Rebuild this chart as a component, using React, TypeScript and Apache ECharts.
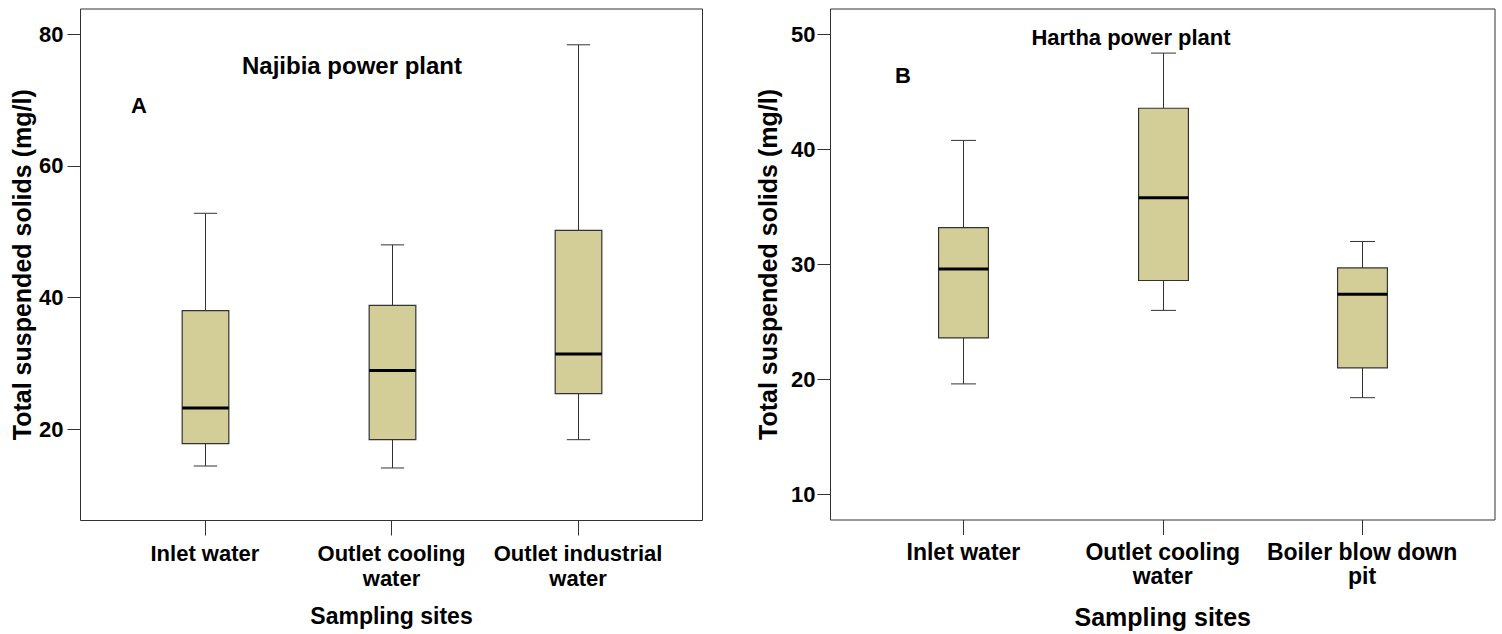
import React, { useEffect, useRef } from 'react';
import * as echarts from 'echarts';

// ---- data ----
const categoriesA = ['Inlet water', 'Outlet cooling\nwater', 'Outlet industrial\nwater'];
const categoriesB = ['Inlet water', 'Outlet cooling\nwater', 'Boiler blow down\npit'];
const positions = [1, 2, 3];
// each box: [lower whisker, Q1, median, Q3, upper whisker]
const boxesA = [
  [14.4, 17.8, 23.2, 38.0, 52.8],
  [14.1, 18.4, 28.9, 38.8, 48.0],
  [18.4, 25.4, 31.4, 50.2, 78.4],
];
const boxesB = [
  [19.6, 23.6, 29.6, 33.2, 40.8],
  [26.0, 28.6, 35.8, 43.6, 48.4],
  [18.4, 21.0, 27.4, 29.7, 32.0],
];
const ticksA = [20, 40, 60, 80];
const ticksB = [10, 20, 30, 40, 50];

const ARIAL = "'Liberation Sans', Arial, sans-serif";
const BOX_FILL = '#D3CE97';
const LINE = '#333333';
const BOX_W = 0.25;

const renderBox = (params: any, api: any) => {
  const x = api.value(0);
  const lo = api.coord([x, api.value(1)]);
  const q1 = api.coord([x, api.value(2)]);
  const med = api.coord([x, api.value(3)]);
  const q3 = api.coord([x, api.value(4)]);
  const hi = api.coord([x, api.value(5)]);
  const half = api.size([BOX_W, 0])[0] / 2;
  const cap = half / 2;
  const cx = Math.round(q1[0]) + 0.5;
  const lineStyle = { stroke: LINE, lineWidth: 1 };
  return {
    type: 'group',
    children: [
      { type: 'line', shape: { x1: cx, y1: q3[1], x2: cx, y2: hi[1] }, style: lineStyle },
      { type: 'line', shape: { x1: cx, y1: q1[1], x2: cx, y2: lo[1] }, style: lineStyle },
      { type: 'line', shape: { x1: cx - cap, y1: hi[1], x2: cx + cap, y2: hi[1] }, style: lineStyle },
      { type: 'line', shape: { x1: cx - cap, y1: lo[1], x2: cx + cap, y2: lo[1] }, style: lineStyle },
      {
        type: 'rect',
        shape: { x: cx - half, y: q3[1], width: half * 2, height: q1[1] - q3[1] },
        style: { fill: BOX_FILL, stroke: LINE, lineWidth: 1.2 },
      },
      {
        type: 'line',
        shape: { x1: cx - half, y1: med[1], x2: cx + half, y2: med[1] },
        style: { stroke: '#000', lineWidth: 3 },
      },
    ],
  };
};

const makeData = (boxes: number[][]) => boxes.map((b, i) => [positions[i], ...b]);

export default function App() {
  const ref = useRef<HTMLDivElement>(null);
  useEffect(() => {
    if (!ref.current) return;
    const chart = echarts.init(ref.current, null, { renderer: 'svg' });
    const xAxisBase = (cats: string[], size: number, nameSize: number, lh: number) => ({
      type: 'value',
      min: 1 / 3,
      max: 11 / 3,
      name: 'Sampling sites',
      nameLocation: 'middle',
      nameGap: 84,
      nameTextStyle: { fontFamily: ARIAL, fontWeight: 'bold', fontSize: nameSize, color: '#000' },
      axisLine: { show: false },
      splitLine: { show: false },
      axisTick: { show: true, customValues: positions, length: 15, lineStyle: { color: LINE } },
      axisLabel: {
        customValues: positions,
        hideOverlap: false,
        formatter: (v: number) => cats[Math.round(v) - 1] ?? '',
        fontFamily: ARIAL,
        fontWeight: 'bold',
        fontSize: size,
        lineHeight: lh,
        color: '#000',
        margin: 20,
      },
    });
    const yAxisBase = (min: number, max: number, ticks: number[], size: number, margin: number, gap: number) => ({
      type: 'value',
      min,
      max,
      name: 'Total suspended solids (mg/l)',
      nameLocation: 'middle',
      nameGap: gap,
      nameRotate: 90,
      nameTextStyle: { fontFamily: ARIAL, fontWeight: 'bold', fontSize: 25, color: '#000' },
      axisLine: { show: false },
      splitLine: { show: false },
      axisTick: { show: true, customValues: ticks, length: 13, lineStyle: { color: LINE } },
      axisLabel: {
        customValues: ticks,
        fontFamily: ARIAL,
        fontWeight: 'bold',
        fontSize: size,
        color: '#000',
        margin: margin,
      },
    });
    chart.setOption({
      animation: false,
      backgroundColor: '#fff',
      grid: [
        { left: 80.5, top: 9, width: 622, height: 511.5, show: true, borderColor: LINE, borderWidth: 1, backgroundColor: 'transparent', containLabel: false },
        { left: 830.5, top: 9, width: 664.5, height: 511.5, show: true, borderColor: LINE, borderWidth: 1, backgroundColor: 'transparent', containLabel: false },
      ],
      xAxis: [
        { ...xAxisBase(categoriesA, 22, 23, 25), gridIndex: 0 },
        { ...xAxisBase(categoriesB, 23, 25, 24), gridIndex: 1 },
      ],
      yAxis: [
        { ...yAxisBase(6.12, 83.84, ticksA, 22, 17, 46), gridIndex: 0 },
        { ...yAxisBase(7.75, 52.24, ticksB, 22, 15, 50), gridIndex: 1 },
      ],
      graphic: [
        { type: 'text', x: 352, y: 65, style: { text: 'Najibia power plant', font: `bold 24px ${ARIAL}`, fill: '#000', textAlign: 'center', textVerticalAlign: 'middle' } },
        { type: 'text', x: 139, y: 105, style: { text: 'A', font: `bold 22px ${ARIAL}`, fill: '#000', textAlign: 'center', textVerticalAlign: 'middle' } },
        { type: 'text', x: 1131, y: 37, style: { text: 'Hartha power plant', font: `bold 22px ${ARIAL}`, fill: '#000', textAlign: 'center', textVerticalAlign: 'middle' } },
        { type: 'text', x: 903, y: 75, style: { text: 'B', font: `bold 22px ${ARIAL}`, fill: '#000', textAlign: 'center', textVerticalAlign: 'middle' } },
      ],
      series: [
        {
          type: 'custom',
          name: 'Najibia',
          xAxisIndex: 0,
          yAxisIndex: 0,
          renderItem: renderBox,
          encode: { x: 0, y: [1, 2, 3, 4, 5] },
          data: makeData(boxesA),
        },
        {
          type: 'custom',
          name: 'Hartha',
          xAxisIndex: 1,
          yAxisIndex: 1,
          renderItem: renderBox,
          encode: { x: 0, y: [1, 2, 3, 4, 5] },
          data: makeData(boxesB),
        },
      ],
    });
    return () => chart.dispose();
  }, []);
  return <div ref={ref} style={{ position: 'absolute', left: 0, top: 0, width: 1502, height: 634 }} />;
}
